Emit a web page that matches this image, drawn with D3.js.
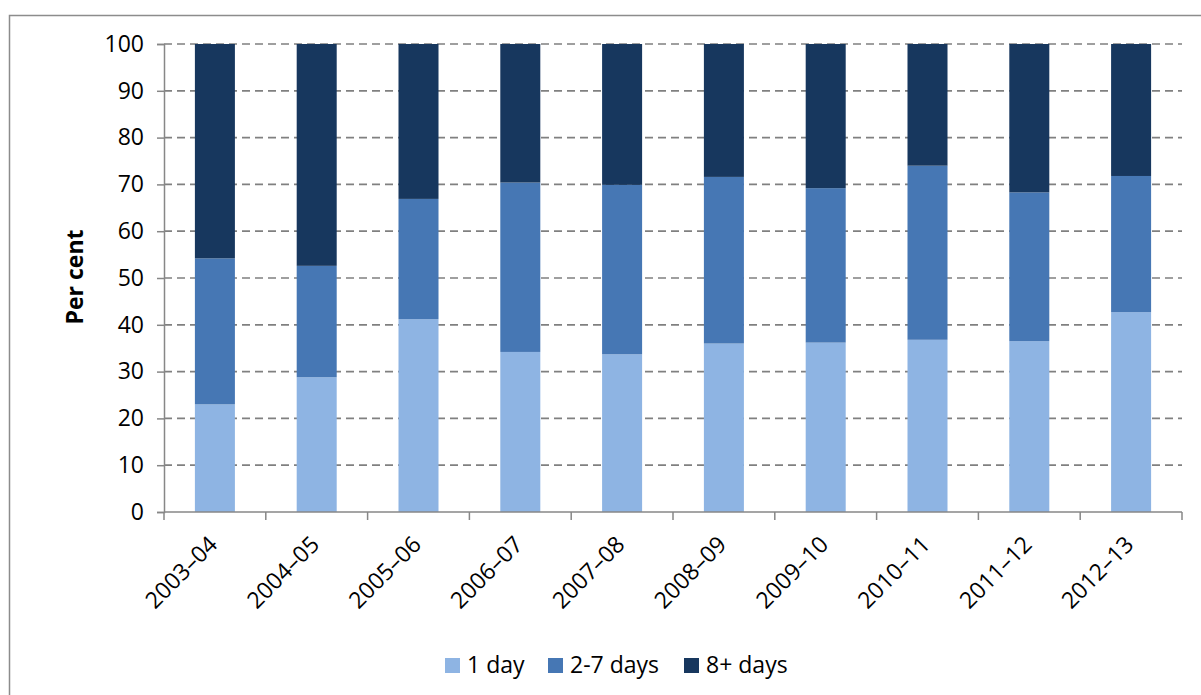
<!DOCTYPE html>
<html>
<head>
<meta charset="utf-8">
<script src="https://cdn.jsdelivr.net/npm/d3@7"></script>
<style>
  html, body { margin: 0; padding: 0; background: #fff; }
  svg { display: block; font-family: "Open Sans", Lato, sans-serif; }
</style>
</head>
<body>
<svg id="chart" width="1201" height="695"></svg>
<script>
// Financial years shown along the x axis
const years = ["2003–04", "2004–05", "2005–06", "2006–07", "2007–08",
               "2008–09", "2009–10", "2010–11", "2011–12", "2012–13"];

// Share of stays (per cent) by length
const oneDay   = [23.0, 28.8, 41.2, 34.2, 33.7, 36.0, 36.2, 36.8, 36.5, 42.7];
const twoSeven = [31.2, 23.8, 25.7, 36.2, 36.2, 35.6, 33.0, 37.2, 31.8, 29.1];
const eightPlus = [45.8, 47.4, 33.1, 29.6, 30.1, 28.4, 30.8, 26.0, 31.7, 28.2];

const seriesNames = ["1 day", "2-7 days", "8+ days"];
const yTicks = [0, 10, 20, 30, 40, 50, 60, 70, 80, 90, 100];

const colors = ["#8eb4e3", "#4677b4", "#17375e"];
const fontFamily = "'Open Sans', Lato, sans-serif";
const fontSize = 23;

const rows = years.map((y, i) => ({
  year: y, "1 day": oneDay[i], "2-7 days": twoSeven[i], "8+ days": eightPlus[i]
}));
const stacked = d3.stack().keys(seriesNames)(rows);

const svg = d3.select("#chart");
const margin = { left: 164, right: 19, top: 44, bottom: 183 };
const W = 1201, H = 695;
const plotW = W - margin.left - margin.right;
const plotH = H - margin.top - margin.bottom;

// Chart frame
svg.append("rect")
  .attr("x", 9.5).attr("y", 15.5)
  .attr("width", 1300).attr("height", 800)
  .attr("fill", "none").attr("stroke", "#8c8c8c").attr("stroke-width", 1.5);

const g = svg.append("g").attr("transform", `translate(${margin.left},${margin.top})`);

const x = d3.scaleBand().domain(years).range([0, plotW]).paddingInner(0.607).paddingOuter(0.3035);
const xEdges = d3.scaleBand().domain(years).range([0, plotW]);
const y = d3.scaleLinear().domain([0, 100]).range([plotH, 0]);

// Dashed horizontal gridlines
g.append("g").selectAll("line")
  .data(yTicks.filter(t => t > 0))
  .join("line")
  .attr("x1", 0).attr("x2", plotW)
  .attr("y1", d => y(d)).attr("y2", d => y(d))
  .attr("stroke", "#808080").attr("stroke-width", 1.7)
  .attr("stroke-dasharray", "8,5");

// Stacked bars
g.append("g").selectAll("g")
  .data(stacked)
  .join("g")
  .attr("fill", (d, i) => colors[i])
  .selectAll("rect")
  .data(d => d)
  .join("rect")
  .attr("x", d => x(d.data.year))
  .attr("width", x.bandwidth())
  .attr("y", d => y(d[1]))
  .attr("height", d => y(d[0]) - y(d[1]));

// Y axis
const yAxis = g.append("g")
  .call(d3.axisLeft(y).tickValues(yTicks).tickSize(7).tickPadding(13).tickFormat(d3.format("d")));
yAxis.select(".domain").attr("stroke", "#878787").attr("stroke-width", 1.5);
yAxis.selectAll(".tick line").attr("stroke", "#878787").attr("stroke-width", 1.5);
yAxis.selectAll(".tick text").attr("font-size", fontSize).attr("fill", "#000")
  .attr("font-family", fontFamily);

// X axis line with ticks at category boundaries
const xAxisG = g.append("g").attr("transform", `translate(0,${plotH})`);
xAxisG.append("line")
  .attr("x1", 0).attr("x2", plotW).attr("y1", 0).attr("y2", 0)
  .attr("stroke", "#878787").attr("stroke-width", 1.5);
const edges = years.map(d => xEdges(d)).concat([plotW]);
xAxisG.selectAll("line.edge")
  .data(edges)
  .join("line")
  .attr("class", "edge")
  .attr("x1", d => d).attr("x2", d => d)
  .attr("y1", 0).attr("y2", 8)
  .attr("stroke", "#878787").attr("stroke-width", 1.5);

// Rotated category labels
xAxisG.selectAll("text.cat")
  .data(years)
  .join("text")
  .attr("class", "cat")
  .attr("transform", d => `translate(${x(d) + x.bandwidth() / 2 + 4},${34}) rotate(-45)`)
  .attr("text-anchor", "end")
  .attr("font-size", fontSize)
  .attr("fill", "#000")
  .text(d => d);

// Y axis title
svg.append("text")
  .attr("transform", `translate(83,277) rotate(-90)`)
  .attr("text-anchor", "middle")
  .attr("font-size", fontSize)
  .attr("font-weight", "bold")
  .attr("fill", "#000")
  .text("Per cent");

// Legend
const legendX = [445, 548, 684];
const legend = svg.append("g").selectAll("g")
  .data(seriesNames)
  .join("g")
  .attr("transform", (d, i) => `translate(${legendX[i]},658)`);
legend.append("rect")
  .attr("width", 15).attr("height", 15)
  .attr("fill", (d, i) => colors[i]);
legend.append("text")
  .attr("x", 22).attr("y", 15)
  .attr("font-size", fontSize)
  .attr("fill", "#000")
  .text(d => d);
</script>
</body>
</html>
